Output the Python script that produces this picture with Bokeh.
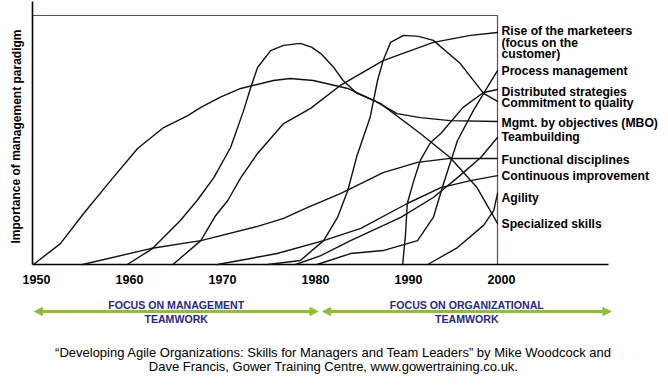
from bokeh.plotting import figure
from bokeh.models import Range1d, Arrow, NormalHead
from bokeh.embed import file_html
from bokeh.resources import INLINE
from bokeh.core.properties import value

# ---------------- data (year, importance 0-100) ----------------
mbo_year = [1950.1, 1953.0, 1955.5, 1958.4, 1961.3, 1964.1, 1966.7, 1968.1, 1970.2, 1972.4, 1975.9,
            1977.7, 1980.2, 1983.9, 1986.7, 1989.2, 1991.7, 1994.9, 2000.0]
mbo_val = [0, 8.4, 20.5, 33.7, 46.6, 55.0, 59.8, 63.1, 67.2, 70.7, 73.9,
           74.7, 73.9, 70.7, 65.9, 60.6, 59.0, 57.8, 57.4]

spec_year = [1960.2, 1962.9, 1965.9, 1967.7, 1969.5, 1971.3, 1972.7, 1973.5, 1974.2, 1975.6, 1977.0,
             1978.8, 1980.0, 1981.0, 1982.4, 1983.4, 1984.9, 1987.4, 1991.7, 1994.9, 1997.8,
             1999.2, 2000.0]
spec_val = [0, 6.4, 17.7, 25.7, 34.9, 47.0, 61.8, 71.5, 79.1, 85.9, 88.0,
            88.8, 87.3, 84.7, 79.1, 73.9, 68.7, 64.7, 52.6, 43.0, 30.9,
            21.7, 16.5]

mkt_year = [1965.1, 1968.1, 1969.7, 1971.0, 1972.4, 1974.2, 1977.0, 1979.9, 1983.1, 1987.7,
            1993.1, 1997.1, 2000.0]
mkt_val = [0, 9.6, 19.7, 25.7, 34.9, 44.6, 56.6, 62.7, 71.9, 81.9, 89.2, 92.0, 93.2]

func_year = [1955.4, 1962.7, 1968.1, 1974.2, 1977.0, 1979.6, 1983.1, 1985.3, 1987.7, 1991.4,
             1994.9, 2000.0]
func_val = [0, 6.4, 9.6, 15.3, 18.5, 22.9, 28.5, 32.5, 36.9, 41.0, 42.6, 42.6]

qual_year = [1975.3, 1978.8, 1981.3, 1982.8, 1983.9, 1984.9, 1986.3, 1987.1, 1987.7, 1988.5,
             1989.9, 1991.5, 1993.1, 1996.0, 1998.5, 2000.0]
qual_val = [0, 1.6, 9.6, 18.9, 29.7, 43.8, 59.0, 73.9, 81.9, 89.2, 92.0, 91.6, 90.0, 80.7, 68.7, 65.5]

cont_year = [1969.9, 1976.3, 1981.3, 1985.3, 1990.3, 1993.9, 1997.1, 2000.0]
cont_val = [0, 4.4, 9.6, 14.5, 24.5, 30.9, 33.7, 35.7]

team_year = [1978.3, 1981.0, 1984.2, 1989.6, 1993.1, 1995.7, 1998.2, 2000.0]
team_val = [0, 3.6, 9.6, 18.9, 26.9, 34.9, 43.0, 51.0]

proc_year = [1980.6, 1984.2, 1987.7, 1991.4, 1993.1, 1994.2, 1995.7, 1997.4, 1998.9, 2000.0]
proc_val = [0, 4.4, 5.6, 9.6, 18.9, 32.5, 49.8, 61.8, 71.1, 77.9]

dist_year = [1989.8, 1990.1, 1990.3, 1991.0, 1991.7, 1992.8, 1993.9, 1996.3, 1998.5, 2000.0]
dist_val = [0, 11.6, 24.5, 33.7, 41.8, 49.0, 52.6, 63.1, 69.1, 70.3]

agil_year = [1992.5, 1995.7, 1998.5, 1999.6, 2000.0]
agil_val = [0, 6.8, 15.7, 21.7, 28.5]

labels = ["Rise of the marketeers", "(focus on the", "customer)", "Process management",
          "Distributed strategies", "Commitment to quality", "Mgmt. by objectives (MBO)",
          "Teambuilding", "Functional disciplines", "Continuous improvement", "Agility",
          "Specialized skills"]

tick_years = [1950, 1960, 1970, 1980, 1990, 2000]
tick_labels = ["1950", "1960", "1970", "1980", "1990", "2000"]

eras_start = [1950.2, 1981.2]
eras_end = [1980.7, 2012.2]
era_line1 = ["FOCUS ON MANAGEMENT", "FOCUS ON ORGANIZATIONAL"]
era_line2 = ["TEAMWORK", "TEAMWORK"]

citation = ["\u201cDeveloping Agile Organizations: Skills for Managers and Team Leaders\u201d by Mike Woodcock and",
            "Dave Francis, Gower Training Centre, www.gowertraining.co.uk."]

# ---------------- layout helpers (page pixels -> data units) ----------------
X0, X_PER_YEAR = 32.0, 9.3     # page x of 1950, px per year
Y0, Y_PER_UNIT = 264.0, 2.49   # page y of value 0, px per unit
OX, OY = 0, 0                  # where the figure lands on the page


def px2yr(px):
    return 1950 + (px - X0) / X_PER_YEAR


def py2v(py):
    return (Y0 - py) / Y_PER_UNIT


W, H = 660, 383
p = figure(width=W, height=H, output_backend="svg", toolbar_location=None,
           x_axis_type=None, y_axis_type=None, min_border=0,
           x_range=Range1d(px2yr(OX), px2yr(OX + W)),
           y_range=Range1d(py2v(OY + H), py2v(OY)))
p.outline_line_color = None
p.background_fill_color = "white"
p.border_fill_color = "white"

FONT = value("Liberation Sans")
purple = "#7a3e6c"
green = "#8fbf2a"
navy = "#28288f"

# purple boundary
p.line([1950, 2000, 2000], [100, 100, 0], line_color=purple, line_width=1.2)

# axes
p.line([1950, 1950], [0, py2v(1)], line_color="black", line_width=1.6)
p.line([1950, px2yr(608)], [0, 0], line_color="black", line_width=1.6)

# curves
for xs, ys in [(mbo_year, mbo_val), (spec_year, spec_val), (mkt_year, mkt_val),
               (func_year, func_val), (qual_year, qual_val), (cont_year, cont_val),
               (team_year, team_val), (proc_year, proc_val), (dist_year, dist_val),
               (agil_year, agil_val)]:
    p.line(xs, ys, line_color="#111111", line_width=1.4, line_join="round", line_cap="round")

# right labels
label_py = [30.7, 42.7, 53.5, 70.5, 91, 102.5, 122.7, 136.7, 159, 175.7, 197, 223]
p.text(x=[2000] * len(labels), y=[py2v(v) for v in label_py], text=labels,
       x_offset=4, text_align="left", text_baseline="middle",
       text_font=FONT, text_font_style="bold", text_font_size="12.2px", text_color="black")

# year tick labels
p.text(x=tick_years, y=[py2v(279)] * len(tick_years), text=tick_labels, x_offset=4,
       text_align="center", text_baseline="middle", text_font=FONT,
       text_font_style="bold", text_font_size="12.5px", text_color="black")

# y axis title
p.text(x=[px2yr(16)], y=[py2v(136)], text=["Importance of management paradigm"],
       angle=1.5707963, text_align="center", text_baseline="middle", text_font=FONT,
       text_font_style="bold", text_font_size="12px", text_color="black")

# era arrows
for xs, xe in zip(eras_start, eras_end):
    p.add_layout(Arrow(x_start=xs, y_start=py2v(311), x_end=xe, y_end=py2v(311),
                       line_color=green, line_width=3,
                       start=NormalHead(size=8, fill_color=green, line_color=green),
                       end=NormalHead(size=8, fill_color=green, line_color=green)))
mids = [(a + b) / 2 for a, b in zip(eras_start, eras_end)]
p.text(x=mids, y=[py2v(304.5)] * 2, text=era_line1, text_align="center",
       text_baseline="middle", text_font=FONT, text_font_style="bold",
       text_font_size="10.6px", text_color=navy)
p.text(x=mids, y=[py2v(318)] * 2, text=era_line2, text_align="center",
       text_baseline="middle", text_font=FONT, text_font_style="bold",
       text_font_size="10.6px", text_color=navy)

# citation
p.text(x=[px2yr(333)] * 2, y=[py2v(352), py2v(366)], text=citation, text_align="center",
       text_baseline="middle", text_font=FONT, text_font_size="13px", text_color="black")

open("out.html", "w").write(file_html(p, INLINE))
